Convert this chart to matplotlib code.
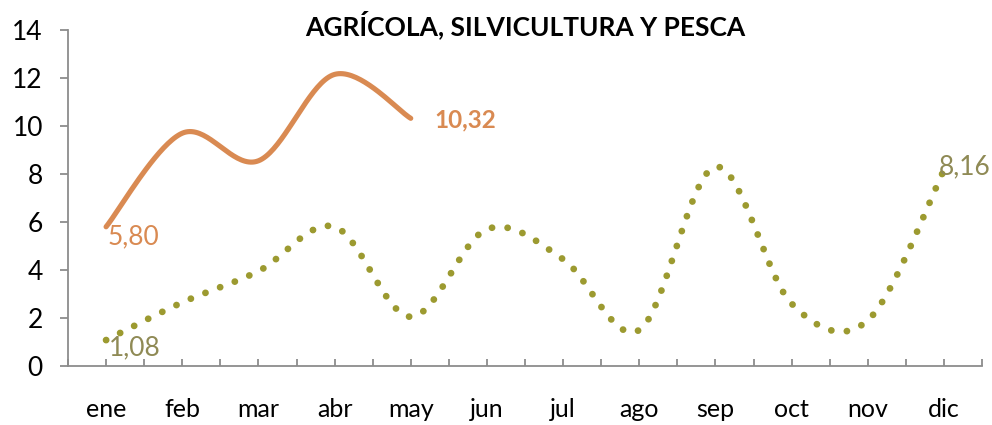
import numpy as np
import matplotlib
matplotlib.use("Agg")
import matplotlib.pyplot as plt

months = ["ene", "feb", "mar", "abr", "may", "jun", "jul", "ago", "sep", "oct", "nov", "dic"]
actual = [5.80, 9.70, 8.55, 12.15, 10.32]
previous = [1.08, 2.65, 3.95, 5.80, 2.05, 5.70, 4.45, 1.50, 8.30, 2.60, 1.90, 8.16]
y_ticks = [0, 2, 4, 6, 8, 10, 12, 14]
title = "AGRÍCOLA, SILVICULTURA Y PESCA"

ORANGE = "#D98A52"
OLIVE = "#9C9A30"
OLIVE_TXT = "#8F8A55"
AXIS = "#8C8C8C"

plt.rcParams["font.family"] = ["Lato", "DejaVu Sans"]


def smooth(xs, ys, n=40):
    """Cubic Bezier smoothing through every point (Catmull-Rom tangents)."""
    p = np.column_stack([xs, ys]).astype(float)
    m = len(p)
    out = []
    for i in range(m - 1):
        p0 = p[i - 1] if i > 0 else p[i]
        p1, p2 = p[i], p[i + 1]
        p3 = p[i + 2] if i + 2 < m else p[i + 1]
        c1 = p1 + (p2 - p0) / 6.0
        c2 = p2 - (p3 - p1) / 6.0
        t = np.linspace(0, 1, n, endpoint=(i == m - 2))[:, None]
        seg = ((1 - t) ** 3) * p1 + 3 * ((1 - t) ** 2) * t * c1 + 3 * (1 - t) * t ** 2 * c2 + t ** 3 * p2
        out.append(seg)
    out = np.vstack(out)
    return out[:, 0], out[:, 1]


def fmt(v):
    return f"{v:.2f}".replace(".", ",")


fig = plt.figure(figsize=(9.92, 4.25), dpi=100)
ax = fig.add_axes([68 / 992, 1 - 366 / 425, (982 - 68) / 992, 336 / 425])

x_all = np.arange(len(months))
x_act = np.arange(len(actual))

sx, sy = smooth(x_all, previous)
ax.plot(sx, sy, color=OLIVE, lw=4.9, linestyle=(0, (0.01, 2.3)),
        dash_capstyle="round", solid_capstyle="round")
ox, oy = smooth(x_act, actual)
ax.plot(ox, oy, color=ORANGE, lw=3.7, solid_capstyle="round")

px = 0.72  # points per pixel at 100 dpi
ax.annotate(fmt(actual[0]), (x_act[0], actual[0]),
            xytext=(1 * px, -10 * px), textcoords="offset points",
            ha="left", va="center", color=ORANGE, fontsize=19)
ax.annotate(fmt(actual[-1]), (x_act[-1], actual[-1]),
            xytext=(24 * px, -2 * px), textcoords="offset points",
            ha="left", va="center", color=ORANGE, fontsize=17.5, fontweight="bold")
ax.annotate(fmt(previous[0]), (x_all[0], previous[0]),
            xytext=(3 * px, -8 * px), textcoords="offset points",
            ha="left", va="center", color=OLIVE_TXT, fontsize=19)
ax.annotate(fmt(previous[-1]), (x_all[-1], previous[-1]),
            xytext=(-5 * px, 3 * px), textcoords="offset points",
            ha="left", va="center", color=OLIVE_TXT, fontsize=19)

ax.set_xlim(-0.5, len(months) - 0.5)
ax.set_ylim(0, 14)
ax.set_yticks(y_ticks)
ax.set_yticklabels([str(v) for v in y_ticks])
ax.set_xticks(np.arange(-0.5, len(months), 0.5))
ax.set_xticklabels([])
for i, m in enumerate(months):
    ax.text(i, -1.83, m, ha="center", va="center", fontsize=18, color="black",
            transform=ax.transData, clip_on=False)

for s in ("top", "right"):
    ax.spines[s].set_visible(False)
for s in ("left", "bottom"):
    ax.spines[s].set_color(AXIS)
    ax.spines[s].set_linewidth(1.3)
ax.tick_params(axis="y", direction="out", length=6, width=1.3, color=AXIS,
               labelsize=19, pad=12, labelcolor="black")
ax.tick_params(axis="x", direction="in", length=5, width=1.3, color=AXIS)

fig.text(525 / 992, 1 - 25 / 425, title, ha="center", va="center",
         fontsize=19, fontweight="bold", color="black")

fig.savefig("out.png", dpi=100)
